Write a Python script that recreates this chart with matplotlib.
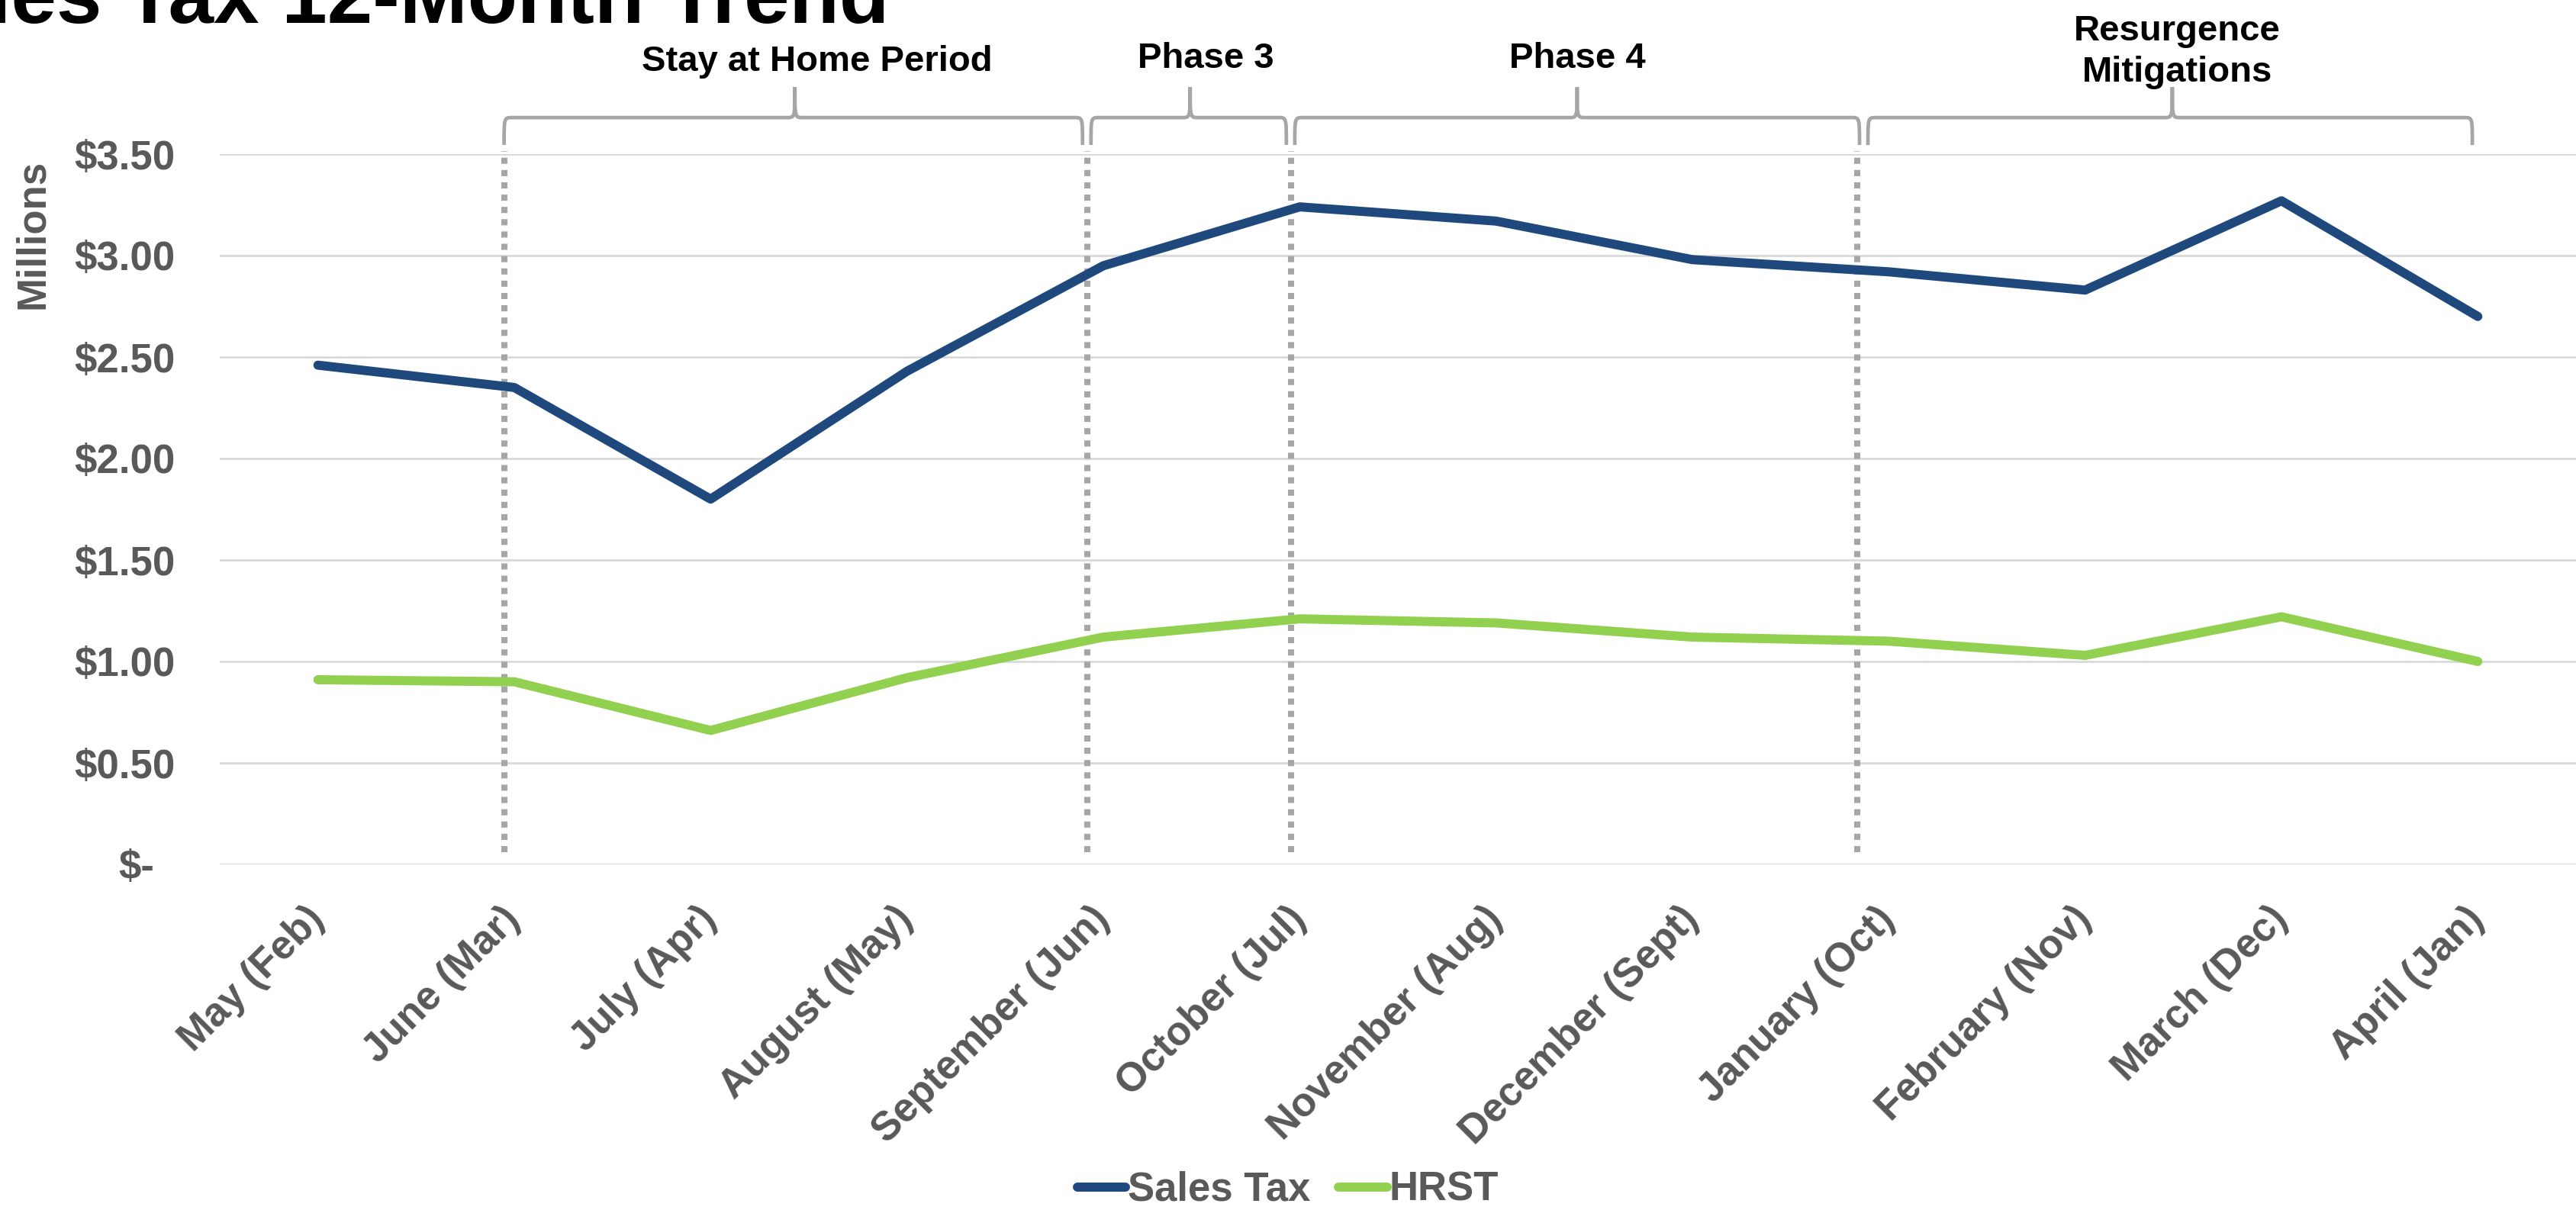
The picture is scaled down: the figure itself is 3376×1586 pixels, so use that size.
import matplotlib
matplotlib.use("Agg")
import matplotlib.pyplot as plt
from matplotlib.path import Path
from matplotlib.patches import PathPatch
from matplotlib.transforms import ScaledTranslation

plt.rcParams['font.family'] = ['Liberation Sans', 'DejaVu Sans']
plt.rcParams['font.weight'] = 'bold'

# ---------------- data ----------------
months = ['May (Feb)', 'June (Mar)', 'July (Apr)', 'August (May)', 'September (Jun)',
          'October (Jul)', 'November (Aug)', 'December (Sept)', 'January (Oct)',
          'February (Nov)', 'March (Dec)', 'April (Jan)']
sales_tax = [2.46, 2.35, 1.80, 2.43, 2.95, 3.24, 3.17, 2.98, 2.92, 2.83, 3.27, 2.70]
hrst = [0.91, 0.90, 0.66, 0.92, 1.12, 1.21, 1.19, 1.12, 1.10, 1.03, 1.22, 1.00]
y_ticks = [0, 0.5, 1.0, 1.5, 2.0, 2.5, 3.0, 3.5]
y_tick_labels = ['$-', '$0.50', '$1.00', '$1.50', '$2.00', '$2.50', '$3.00', '$3.50']
phase_names = ['Stay at Home Period', 'Phase 3', 'Phase 4', 'Resurgence\nMitigations']
series_names = ['Sales Tax', 'HRST']
title = 'Sales Tax 12-Month Trend'

# ---------------- annotation layout (category units) ----------------
phase_lines = [0.948, 3.918, 4.955, 7.839]
bracket_spans = [(0.948, 3.894, 2.429), (3.937, 4.932, 4.442),
                 (4.975, 7.851, 6.413), (7.894, 10.972, 9.444)]
label_x = [2.542, 4.52, 6.413, 9.468]
label_y = [3.91, 3.925, 3.925, 3.857]

BLUE = '#1F497D'
GREEN = '#92D050'
GRAY_TXT = '#595959'
GRID = '#D9D9D9'
BRACKET = '#A6A6A6'

W, H, DPI = 3376, 1586, 200
fig = plt.figure(figsize=(W / DPI, H / DPI), dpi=DPI)
ax = fig.add_axes([288 / W, (H - 1133) / H, (W - 288) / W, (1133 - 202) / H])

x = list(range(len(months)))
ax.plot(x, sales_tax, color=BLUE, lw=4.3, solid_capstyle='round',
        solid_joinstyle='round', label=series_names[0], zorder=4)
ax.plot(x, hrst, color=GREEN, lw=4.3, solid_capstyle='round',
        solid_joinstyle='round', label=series_names[1], zorder=4)

ax.set_xlim(-0.5, len(months) - 0.5)
ax.set_ylim(0, 3.5)
ax.set_yticks(y_ticks)
ax.set_yticklabels(y_tick_labels)
ax.set_xticks(x)
ax.set_xticklabels(months, rotation=45, ha='right', va='center',
                   rotation_mode='anchor')
ax.tick_params(axis='both', length=0, labelsize=19, labelcolor=GRAY_TXT)
ax.tick_params(axis='y', pad=21)
ax.tick_params(axis='x', pad=23)
for s in ax.spines.values():
    s.set_visible(False)
ax.grid(axis='y', color=GRID, lw=1.0)
ax.set_axisbelow(True)

# accounting-style "$-" label sits further left
zero_lbl = ax.get_yticklabels()[0]
zero_lbl.set_transform(zero_lbl.get_transform() +
                       ScaledTranslation(-28 / DPI, 0, fig.dpi_scale_trans))

# dashed phase boundaries
ax.vlines(phase_lines, 0.06, 3.515, colors=BRACKET, lw=2.9,
          linestyles=(0, (1.0, 1.0)), clip_on=False, zorder=3)

# curly brackets
y_top, y_end, y_tip = 3.68, 3.545, 3.83
r = 0.04
for (x0, x1, xm) in bracket_spans:
    verts = [(x0, y_end), (x0, y_top), (x0, y_top), (x0 + r, y_top),
             (xm - r, y_top),
             (xm, y_top), (xm, y_top), (xm, y_tip),
             (xm, y_top), (xm, y_top), (xm + r, y_top),
             (x1 - r, y_top),
             (x1, y_top), (x1, y_top), (x1, y_end)]
    codes = [Path.MOVETO, Path.CURVE4, Path.CURVE4, Path.CURVE4,
             Path.LINETO,
             Path.CURVE4, Path.CURVE4, Path.CURVE4,
             Path.CURVE4, Path.CURVE4, Path.CURVE4,
             Path.LINETO,
             Path.CURVE4, Path.CURVE4, Path.CURVE4]
    ax.add_patch(PathPatch(Path(verts, codes), fill=False, edgecolor=BRACKET,
                           lw=1.7, clip_on=False, capstyle='butt'))

for name, lx, ly in zip(phase_names, label_x, label_y):
    ax.text(lx, ly, name, ha='center', va='baseline', fontsize=17,
            color='black', linespacing=1.3, multialignment='center',
            clip_on=False)

# y-axis unit label
fig.text(43 / W, 1 - 307 / H, 'Millions', rotation=90, ha='center', va='center',
         fontsize=19, color=GRAY_TXT)

# title (partly cropped off the top, as in the reference)
fig.text(1165 / W, 1 - 30 / H, title, ha='right', va='baseline',
         fontsize=38.5, color='black')

fig.legend(loc='center', bbox_to_anchor=(0.5, 1 - 1560 / H), ncol=2,
           frameon=False, fontsize=19, labelcolor=GRAY_TXT, handlelength=1.2,
           handletextpad=0.05, columnspacing=0.7)

fig.savefig('out.png', dpi=DPI)
